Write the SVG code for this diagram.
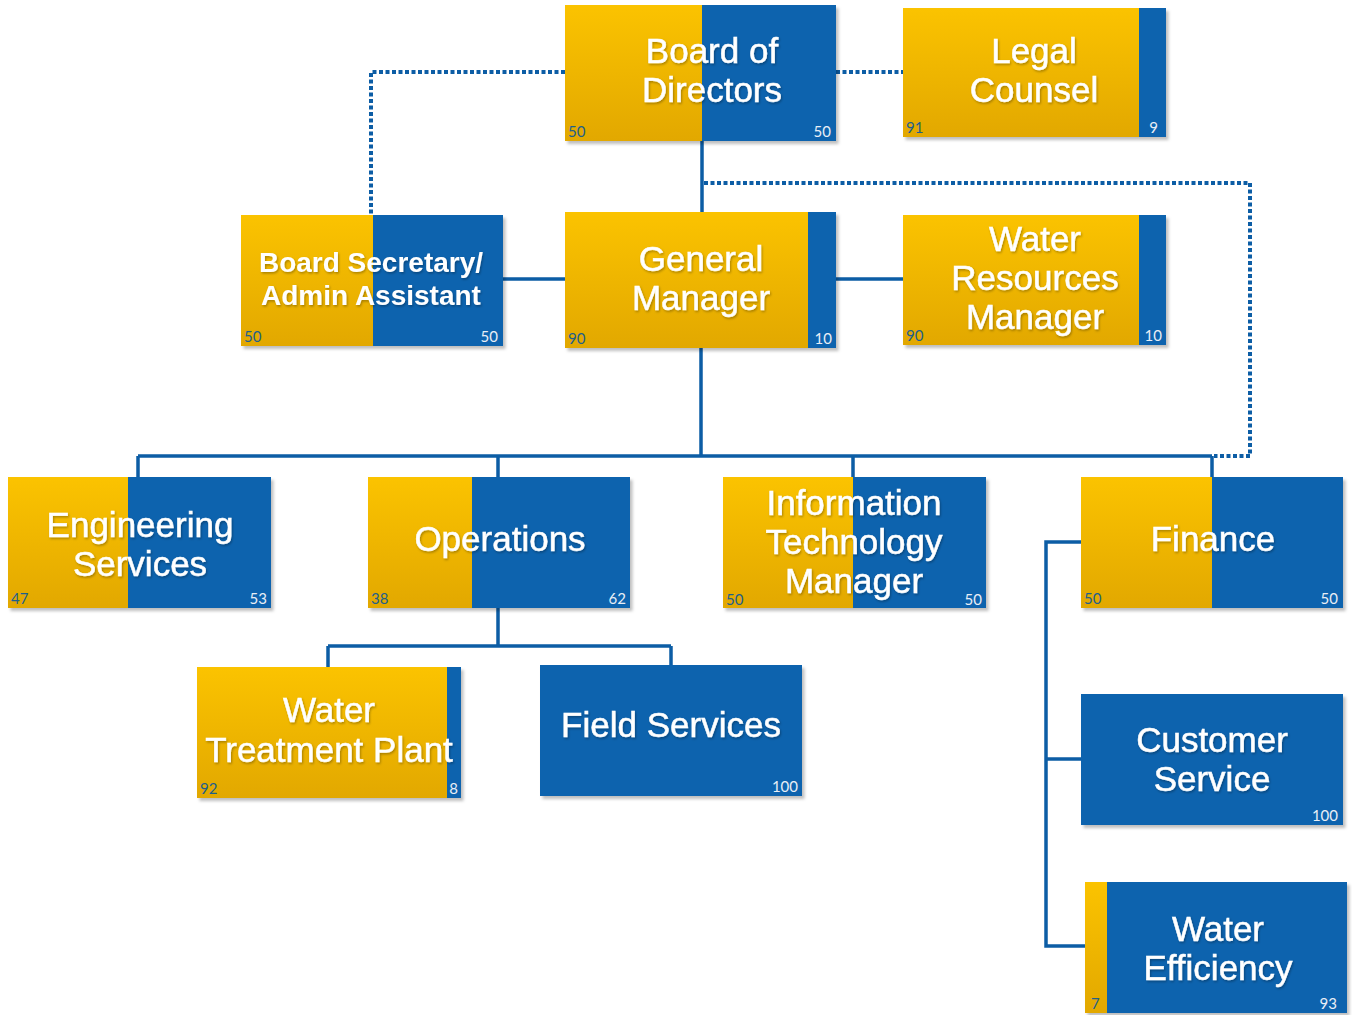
<svg xmlns="http://www.w3.org/2000/svg" width="1352" height="1015" viewBox="0 0 1352 1015">
<style>
.y{fill:url(#yg)}
.b{fill:#0A63AE}
.lbl{font-family:"Liberation Sans",Arial,sans-serif;font-size:35px;fill:#fff;stroke:#fff;stroke-width:0.5;text-anchor:middle;filter:url(#ts)}
.lbs{font-family:"Liberation Sans",Arial,sans-serif;font-size:28px;font-weight:bold;fill:#fff;text-anchor:middle;filter:url(#ts)}
.nl{font-family:Lato,"Open Sans",sans-serif;font-size:15px;fill:#1E5F8C}
.nr{font-family:Lato,"Open Sans",sans-serif;font-size:15px;fill:#E8EEF6;text-anchor:end}
.c{fill:none;stroke:#0C5DA5;stroke-width:3.5}
.d{fill:none;stroke:#0C5DA5;stroke-width:4;stroke-dasharray:4 2.5}
.box{filter:url(#sh)}
</style>
<defs>
<linearGradient id="yg" x1="0" y1="0" x2="0" y2="1">
<stop offset="0" stop-color="#FBC300"/>
<stop offset="1" stop-color="#E2A800"/>
</linearGradient>
<filter id="sh" x="-5%" y="-5%" width="115%" height="115%">
<feDropShadow dx="2.5" dy="3" stdDeviation="1.5" flood-color="#000" flood-opacity="0.25"/>
</filter>
<filter id="ts" x="-5%" y="-20%" width="115%" height="150%">
<feDropShadow dx="1" dy="1.5" stdDeviation="1" flood-color="#000" flood-opacity="0.3"/>
</filter>
</defs>
<rect width="1352" height="1015" fill="#fff"/>

<g id="connectors">
<path class="c" d="M702 141V212"/>
<path class="c" d="M503 279H565"/>
<path class="c" d="M836 279H903"/>
<path class="c" d="M701 348V456M138 456H1212M138 456V477M498 456V477M853 456V477M1212 456V477"/>
<path class="c" d="M498 608V646M328 646H671M328 646V667M671 646V665"/>
<path class="c" d="M1081 542H1046V946H1085M1046 759H1081"/>
<path class="d" d="M565 72H371V215"/>
<path class="d" d="M836 72H903"/>
<path class="d" d="M704 183H1250V456H1214"/>
</g>

<g id="board">
<g class="box"><rect class="b" x="565" y="5" width="271" height="136"/><rect class="y" x="565" y="5" width="137" height="136"/></g>
<text class="lbl" x="712" y="63">Board of</text>
<text class="lbl" x="712" y="102">Directors</text>
<text class="nl" x="568" y="137">50</text>
<text class="nr" x="831" y="137">50</text>
</g>

<g id="legal">
<g class="box"><rect class="b" x="903" y="8" width="263" height="129"/><rect class="y" x="903" y="8" width="236" height="129"/></g>
<text class="lbl" x="1034" y="63">Legal</text>
<text class="lbl" x="1034" y="102">Counsel</text>
<text class="nl" x="906" y="133">91</text>
<text class="nr" x="1158" y="133">9</text>
</g>

<g id="secretary">
<g class="box"><rect class="b" x="241" y="215" width="262" height="131"/><rect class="y" x="241" y="215" width="132" height="131"/></g>
<text class="lbs" x="371" y="272">Board Secretary/</text>
<text class="lbs" x="371" y="305">Admin Assistant</text>
<text class="nl" x="244" y="342">50</text>
<text class="nr" x="498" y="342">50</text>
</g>

<g id="gm">
<g class="box"><rect class="b" x="565" y="212" width="271" height="136"/><rect class="y" x="565" y="212" width="243" height="136"/></g>
<text class="lbl" x="701" y="271">General</text>
<text class="lbl" x="701" y="310">Manager</text>
<text class="nl" x="568" y="344">90</text>
<text class="nr" x="832" y="344">10</text>
</g>

<g id="wrm">
<g class="box"><rect class="b" x="903" y="215" width="263" height="130"/><rect class="y" x="903" y="215" width="236" height="130"/></g>
<text class="lbl" x="1035" y="251">Water</text>
<text class="lbl" x="1035" y="290">Resources</text>
<text class="lbl" x="1035" y="329">Manager</text>
<text class="nl" x="906" y="341">90</text>
<text class="nr" x="1162" y="341">10</text>
</g>

<g id="engineering">
<g class="box"><rect class="b" x="8" y="477" width="263" height="131"/><rect class="y" x="8" y="477" width="120" height="131"/></g>
<text class="lbl" x="140" y="537">Engineering</text>
<text class="lbl" x="140" y="576">Services</text>
<text class="nl" x="11" y="604">47</text>
<text class="nr" x="267" y="604">53</text>
</g>

<g id="operations">
<g class="box"><rect class="b" x="368" y="477" width="262" height="131"/><rect class="y" x="368" y="477" width="104" height="131"/></g>
<text class="lbl" x="500" y="551">Operations</text>
<text class="nl" x="371" y="604">38</text>
<text class="nr" x="626" y="604">62</text>
</g>

<g id="it">
<g class="box"><rect class="b" x="723" y="477" width="263" height="131"/><rect class="y" x="723" y="477" width="130" height="131"/></g>
<text class="lbl" x="854" y="515">Information</text>
<text class="lbl" x="854" y="554">Technology</text>
<text class="lbl" x="854" y="593">Manager</text>
<text class="nl" x="726" y="605">50</text>
<text class="nr" x="982" y="605">50</text>
</g>

<g id="finance">
<g class="box"><rect class="b" x="1081" y="477" width="262" height="131"/><rect class="y" x="1081" y="477" width="131" height="131"/></g>
<text class="lbl" x="1213" y="551">Finance</text>
<text class="nl" x="1084" y="604">50</text>
<text class="nr" x="1338" y="604">50</text>
</g>

<g id="wtp">
<g class="box"><rect class="b" x="197" y="667" width="264" height="131"/><rect class="y" x="197" y="667" width="250" height="131"/></g>
<text class="lbl" x="329" y="722">Water</text>
<text class="lbl" x="329" y="762">Treatment Plant</text>
<text class="nl" x="200" y="794">92</text>
<text class="nr" x="458" y="794">8</text>
</g>

<g id="field">
<g class="box"><rect class="b" x="540" y="665" width="262" height="131"/></g>
<text class="lbl" x="671" y="737">Field Services</text>
<text class="nr" x="798" y="792">100</text>
</g>

<g id="customer">
<g class="box"><rect class="b" x="1081" y="694" width="262" height="131"/></g>
<text class="lbl" x="1212" y="752">Customer</text>
<text class="lbl" x="1212" y="791">Service</text>
<text class="nr" x="1338" y="821">100</text>
</g>

<g id="efficiency">
<g class="box"><rect class="b" x="1085" y="882" width="262" height="131"/><rect class="y" x="1085" y="882" width="22" height="131"/></g>
<text class="lbl" x="1218" y="941">Water</text>
<text class="lbl" x="1218" y="980">Efficiency</text>
<text class="nl" x="1091" y="1009">7</text>
<text class="nr" x="1337" y="1009">93</text>
</g>
</svg>
